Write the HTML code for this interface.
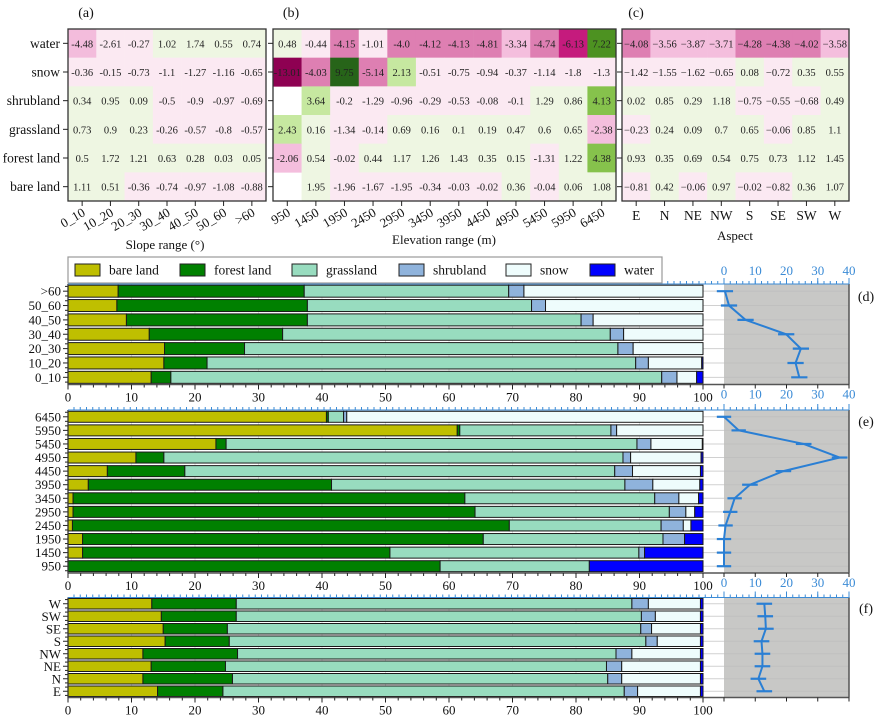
<!DOCTYPE html>
<html><head><meta charset="utf-8">
<style>
html,body{margin:0;padding:0;background:#fff;}
svg{display:block;font-family:"Liberation Serif","DejaVu Serif",serif;}
</style></head>
<body>
<svg id="chart" width="878" height="719" viewBox="0 0 878 719" xmlns="http://www.w3.org/2000/svg">
<g id="heat"></g>
<g id="bars"></g>
</svg>
<script>
// ---------- heatmap data ----------
const heatRows = ["water","snow","shrubland","grassland","forest land","bare land"];
const slopeCats = ["0_10","10_20","20_30","30_40","40_50","50_60",">60"];
const elevCats = ["950","1450","1950","2450","2950","3450","3950","4450","4950","5450","5950","6450"];
const aspectCats = ["E","N","NE","NW","S","SE","SW","W"];
const heatSlope = [
 [-4.48,-2.61,-0.27,1.02,1.74,0.55,0.74],
 [-0.36,-0.15,-0.73,-1.1,-1.27,-1.16,-0.65],
 [0.34,0.95,0.09,-0.5,-0.9,-0.97,-0.69],
 [0.73,0.9,0.23,-0.26,-0.57,-0.8,-0.57],
 [0.5,1.72,1.21,0.63,0.28,0.03,0.05],
 [1.11,0.51,-0.36,-0.74,-0.97,-1.08,-0.88]];
const heatElev = [
 [0.48,-0.44,-4.15,-1.01,-4.0,-4.12,-4.13,-4.81,-3.34,-4.74,-6.13,7.22],
 [-13.01,-4.03,9.75,-5.14,2.13,-0.51,-0.75,-0.94,-0.37,-1.14,-1.8,-1.3],
 [null,3.64,-0.2,-1.29,-0.96,-0.29,-0.53,-0.08,-0.1,1.29,0.86,4.13],
 [2.43,0.16,-1.34,-0.14,0.69,0.16,0.1,0.19,0.47,0.6,0.65,-2.38],
 [-2.06,0.54,-0.02,0.44,1.17,1.26,1.43,0.35,0.15,-1.31,1.22,4.38],
 [null,1.95,-1.96,-1.67,-1.95,-0.34,-0.03,-0.02,0.36,-0.04,0.06,1.08]];
const heatAspect = [
 [-4.08,-3.56,-3.87,-3.71,-4.28,-4.38,-4.02,-3.58],
 [-1.42,-1.55,-1.62,-0.65,0.08,-0.72,0.35,0.55],
 [0.02,0.85,0.29,1.18,-0.75,-0.55,-0.68,0.49],
 [-0.23,0.24,0.09,0.7,0.65,-0.06,0.85,1.1],
 [0.93,0.35,0.69,0.54,0.75,0.73,1.12,1.45],
 [-0.81,0.42,-0.06,0.97,-0.02,-0.82,0.36,1.07]];

// ---------- bar data (segment shares, %) ----------
const seriesNames = ["bare land","forest land","grassland","shrubland","snow","water"];
const slopeBarCats = ["0_10","10_20","20_30","30_40","40_50","50_60",">60"];
const slopeBare = [13.1,15.1,15.2,12.8,9.2,7.7,7.9];
const slopeForest = [3.1,6.8,12.6,21.0,28.5,30.0,29.3];
const slopeGrass = [77.3,67.5,58.8,51.6,43.1,35.3,32.2];
const slopeShrub = [2.4,2.0,2.4,2.1,1.9,2.2,2.4];
const slopeSnow = [3.1,8.4,11.0,12.5,17.3,24.8,28.2];
const slopeWater = [1.0,0.2,0,0,0,0,0];
const slopeLine = [24.1,22.9,24.6,19.9,6.9,1.6,0.3];
const slopeErr = [2.6,2.6,2.6,2.6,2.6,2.6,2.6];

const elevBarCats = ["950","1450","1950","2450","2950","3450","3950","4450","4950","5450","5950","6450"];
const elevBare = [0,2.3,2.3,0.7,0.8,0.8,3.2,6.2,10.7,23.3,61.3,40.7];
const elevForest = [58.6,48.4,63.1,68.8,63.3,61.7,38.3,12.2,4.4,1.6,0.4,0.3];
const elevGrass = [23.5,39.2,28.3,23.9,30.6,29.9,46.2,67.7,72.3,64.7,23.8,2.4];
const elevShrub = [0,0.9,3.4,3.5,2.6,3.8,4.4,2.8,1.2,2.2,0.9,0.5];
const elevSnow = [0,0,0,1.2,1.4,3.1,7.4,10.7,11.1,8.1,13.6,56.1];
const elevWater = [17.9,9.2,2.9,1.9,1.3,0.7,0.5,0.4,0.3,0.1,0,0];
const elevLine = [0,0,0,0.5,2,3.4,8.3,19,37,25.5,4.7,0];
const elevErr = [2.3,2.3,2.3,2.3,2.3,2.3,2.5,2.5,2.5,2.5,2.3,2.3];

const aspectBarCats = ["E","N","NE","NW","S","SE","SW","W"];
const aspBare = [14.1,11.8,13.1,11.8,15.3,15.0,14.7,13.2];
const aspForest = [10.3,14.1,11.7,14.9,10.1,10.1,11.8,13.3];
const aspGrass = [63.2,59.1,60.0,59.6,65.6,65.1,63.8,62.3];
const aspShrub = [2.1,2.2,2.4,2.5,1.8,1.7,2.2,2.6];
const aspSnow = [9.9,12.4,12.4,10.8,6.8,7.7,7.1,8.2];
const aspWater = [0.4,0.4,0.4,0.4,0.4,0.4,0.4,0.4];
const aspLine = [12.9,11.0,12.3,12.3,12.0,13.4,13.2,12.9];
const aspErr = [2.5,2.5,2.5,2.5,2.5,2.5,2.5,2.5];

const barTicks = [0,10,20,30,40,50,60,70,80,90,100];
const lineTicks = [0,10,20,30,40];

// ---------- helpers ----------
const NS="http://www.w3.org/2000/svg";
function mk(tag, attrs, parent, text){
  const e=document.createElementNS(NS,tag);
  for(const k in attrs) e.setAttribute(k,attrs[k]);
  if(text!==undefined) e.textContent=text;
  parent.appendChild(e); return e;
}
function colA(v){ if(v<=-4) return "#f3bcdc"; return v<0?"#fbe9f2":"#eef6e2"; }
function colB(v){
  if(v<=-10) return "#8e0152"; if(v<=-5.5) return "#c51b7d"; if(v<=-3.9) return "#de7fb2";
  if(v<=-2) return "#f4bedd"; if(v<0) return "#fbe9f2"; if(v<2) return "#eef6e2";
  if(v<4) return "#c6e8a0"; if(v<6) return "#86c24c"; if(v<8) return "#4d9221"; return "#276419";
}
function colC(v){ if(v<=-4) return "#de7fb2"; if(v<=-3) return "#f4bedd"; return v<0?"#fbe9f2":"#eef6e2"; }

const heat=document.getElementById('heat');
const HY0=29, HY1=201;
function heatmap(name, data, cats, x0, x1, colFn, minusSign, rotate, label, lx, title, tx, ty, showY){
  const g=mk('g',{},heat);
  
  
  const cw=(x1-x0)/cats.length, ch=(HY1-HY0)/heatRows.length;
  data.forEach((row,r)=>row.forEach((v,c)=>{
    const x=x0+c*cw, y=HY0+r*ch;
    if(v===null) return;
    const rc=mk('rect',{x:x,y:y,width:cw+0.3,height:ch+0.3,fill:colFn(v)},g);
    
    
    let s=Number.isInteger(v)?v.toFixed(1):String(v); if(minusSign) s=s.replace('-','\u2212');
    const t=mk('text',{x:x+cw/2,y:y+ch/2+4,'text-anchor':'middle','font-size':'10.5',fill:'#222'},g,s);
    
    
  }));
  const fr=mk('rect',{x:x0,y:HY0,width:x1-x0,height:HY1-HY0,fill:'none',stroke:'#333','stroke-width':1.3},g);
  
  
  heatRows.forEach((n,r)=>{
    const y=HY0+(r+0.5)*ch;
    mk('line',{x1:x0-5,y1:y,x2:x0,y2:y,stroke:'#222'},g);
    if(showY){
      const t=mk('text',{x:x0-8,y:y+4.5,'text-anchor':'end','font-size':'13.5',fill:'#111'},g,n);
      
      
    }
  });
  cats.forEach((n,c)=>{
    const x=x0+(c+0.5)*cw;
    mk('line',{x1:x,y1:HY1,x2:x,y2:HY1+5,stroke:'#222'},g);
    let t;
    if(rotate) t=mk('text',{x:x+4,y:HY1+14,'text-anchor':'end','font-size':'13',fill:'#111',transform:`rotate(-30 ${x+4} ${HY1+14})`},g,n);
    else t=mk('text',{x:x,y:HY1+19,'text-anchor':'middle','font-size':'13.5',fill:'#111'},g,n);
    
    
  });
  const pl=mk('text',{x:lx,y:17,'text-anchor':'middle','font-size':'14',fill:'#111'},g,label);
  
  
  const at=mk('text',{x:tx,y:ty,'text-anchor':'middle','font-size':'13',fill:'#111'},g,title);
  
  
}
heatmap('heatmap-slope',heatSlope,slopeCats,68,266,colA,false,true,'(a)',86,'Slope range (\u00b0)',165,249,true);
heatmap('heatmap-elevation',heatElev,elevCats,273,616,colB,false,true,'(b)',291,'Elevation range (m)',444,244,false);
heatmap('heatmap-aspect',heatAspect,aspectCats,622,849,colC,true,false,'(c)',636,'Aspect',735,240,false);

// ---------- bar panels ----------
const bars=document.getElementById('bars');
const colors=["#bfbf00","#008000","#98dcbf","#8fb3dc","#eefcfc","#0000ff"];
const BX0=68, BX1=703, RX0=724, RX1=849;
const xb=v=>BX0+v*(BX1-BX0)/100;
const xr=v=>RX0+v*(RX1-RX0)/40;

function panel(name, cats, series, line, err, top, bottom, barH, label, opts){
  const g=mk('g',{},bars);
  
  
  const step=(bottom-top)/cats.length;
  const yc=i=>bottom-(i+0.5)*step;
  mk('rect',{x:RX0,y:top,width:RX1-RX0,height:bottom-top,fill:'#c8c8c6'},g);
  cats.forEach((c,i)=>mk('line',{x1:BX0,y1:yc(i),x2:RX1,y2:yc(i),stroke:'#bdbdbd','stroke-width':1,opacity:0.7},g));
  barTicks.forEach(t=>{ if(t>0&&t<100) mk('line',{x1:xb(t),y1:top,x2:xb(t),y2:bottom,stroke:'#999','stroke-width':0.6,opacity:0.5},g); });
  cats.forEach((c,i)=>{
    let acc=0;
    series.forEach((s,k)=>{
      const v=s[i];
      if(v>0){
        const r=mk('rect',{x:xb(acc),y:yc(i)-barH/2,width:xb(acc+v)-xb(acc),height:barH,fill:colors[k],stroke:'#1a1a1a','stroke-width':1},g);
        
        
      }
      acc+=v;
    });
    mk('line',{x1:BX0-5,y1:yc(i),x2:BX0,y2:yc(i),stroke:'#222'},g);
    mk('line',{x1:BX0-3,y1:yc(i)-step/3,x2:BX0,y2:yc(i)-step/3,stroke:'#222'},g);
    mk('line',{x1:BX0-3,y1:yc(i)+step/3,x2:BX0,y2:yc(i)+step/3,stroke:'#222'},g);
    const t=mk('text',{x:BX0-7,y:yc(i)+4.5,'text-anchor':'end','font-size':'13',fill:'#111'},g,c);
    
    
  });
  const pts=line.map((v,i)=>`${xr(v)},${yc(i)}`).join(' ');
  const pl=mk('polyline',{points:pts,fill:'none',stroke:'#2a7fd4','stroke-width':2},g);
  
  
  line.forEach((v,i)=>{
    const e=mk('line',{x1:xr(Math.max(-2.4,v-err[i])),y1:yc(i),x2:xr(v+err[i]),y2:yc(i),stroke:'#2a7fd4','stroke-width':2.2},g);
    
    
  });
  mk('line',{x1:BX0,y1:top,x2:BX0,y2:bottom,stroke:'#333','stroke-width':1.3},g);
  mk('line',{x1:BX0,y1:bottom,x2:RX1,y2:bottom,stroke:'#555','stroke-width':1.5},g);
  mk('line',{x1:RX1,y1:top,x2:RX1,y2:bottom,stroke:'#555','stroke-width':1.5},g);
  mk('line',{x1:BX0,y1:top,x2:RX1,y2:top,stroke:'#3b8bd6','stroke-width':1},g);
  for(let x=RX0;x>=BX0;x-=6.25) mk('line',{x1:x,y1:top,x2:x,y2:top-3,stroke:'#3b8bd6'},g);
  for(let x=RX0;x<=RX1+0.1;x+=6.25) mk('line',{x1:x,y1:top,x2:x,y2:top-3,stroke:'#3b8bd6'},g);
  lineTicks.forEach(t=>mk('line',{x1:xr(t),y1:top,x2:xr(t),y2:top-6,stroke:'#3b8bd6'},g));
  for(let v=0;v<=100;v+=2) mk('line',{x1:xb(v),y1:bottom,x2:xb(v),y2:bottom+(v%10===0?5:3),stroke:'#222'},g);
  lineTicks.forEach(t=>mk('line',{x1:xr(t),y1:bottom,x2:xr(t),y2:bottom+4,stroke:'#222'},g));
  barTicks.forEach(t=>{
    const tt=mk('text',{x:xb(t),y:bottom+17,'text-anchor':'middle','font-size':'13',fill:'#111'},g,String(t));
    
    
  });
  if(opts.blueTop) lineTicks.forEach(t=>{
    const tt=mk('text',{x:xr(t),y:top-9,'text-anchor':'middle','font-size':'13',fill:'#3b8bd6'},g,String(t));
    
    
  });
  if(opts.blueBottom) lineTicks.forEach(t=>{
    const tt=mk('text',{x:xr(t),y:bottom+14,'text-anchor':'middle','font-size':'13',fill:'#3b8bd6'},g,String(t));
    
    
  });
  const lb=mk('text',{x:866,y:top+step*0.9+4,'text-anchor':'middle','font-size':'14',fill:'#111'},g,label);
  
  
}
panel('panel-slope',slopeBarCats,[slopeBare,slopeForest,slopeGrass,slopeShrub,slopeSnow,slopeWater],slopeLine,slopeErr,284,384.5,12,'(d)',{blueTop:true,blueBottom:true});
panel('panel-elevation',elevBarCats,[elevBare,elevForest,elevGrass,elevShrub,elevSnow,elevWater],elevLine,elevErr,410,573,11,'(e)',{blueTop:false,blueBottom:true});
panel('panel-aspect',aspectBarCats,[aspBare,aspForest,aspGrass,aspShrub,aspSnow,aspWater],aspLine,aspErr,597.5,697.5,10.5,'(f)',{blueTop:false,blueBottom:false});

const lg=mk('g',{},bars);


mk('rect',{x:68,y:257,width:594,height:26,fill:'#fff',stroke:'#999','stroke-width':1.2},lg);
const legX=[75,180,292,399,506,590];
seriesNames.forEach((n,k)=>{
  const it=mk('g',{},lg);
  
  
  mk('rect',{x:legX[k],y:264,width:25,height:12,fill:colors[k],stroke:'#222'},it);
  mk('text',{x:legX[k]+34,y:274.5,'font-size':'13.5',fill:'#111'},it,n);
});
</script>
</body></html>
